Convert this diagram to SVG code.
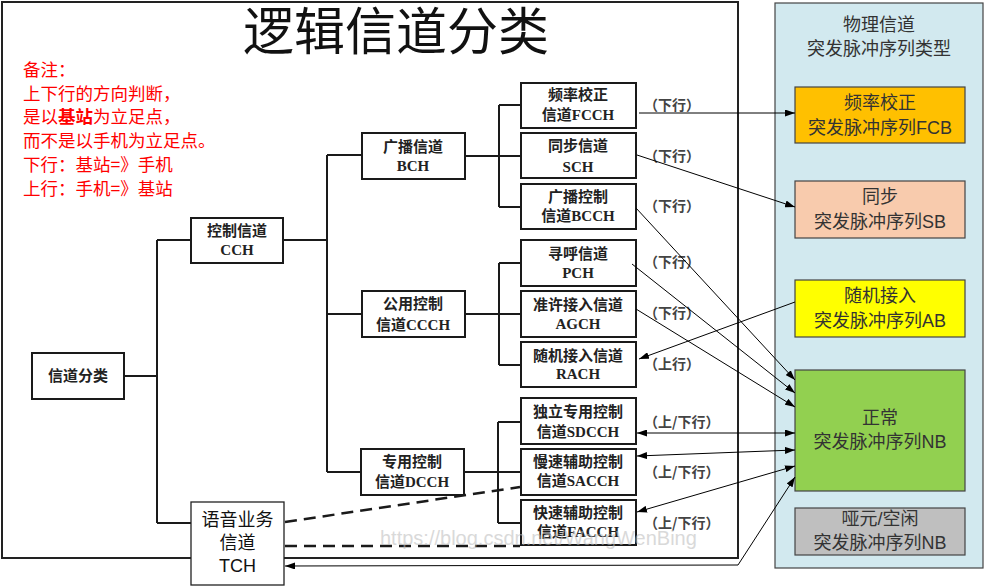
<svg xmlns="http://www.w3.org/2000/svg" width="984" height="586" viewBox="0 0 984 586">
<defs>
<style>
.tb{fill:#fff;stroke:#1a1a1a;stroke-width:2}
.tt{font-family:"Liberation Serif","Noto Sans CJK SC",serif;font-weight:bold;font-size:15px;fill:#222;text-anchor:middle}
.lbl{font-family:"Noto Sans CJK SC",sans-serif;font-weight:bold;font-size:14px;fill:#444}
.tree{stroke:#1a1a1a;stroke-width:2;fill:none}
.conn{stroke:#000;stroke-width:1;fill:none}
.dash{stroke:#1a1a1a;stroke-width:2.5;stroke-dasharray:12 7;fill:none}
.pb{stroke:#444;stroke-width:1.2}
.pt{font-family:"Liberation Sans","Noto Sans CJK SC",sans-serif;font-size:18px;fill:#333;text-anchor:middle}
.note{font-family:"Noto Sans CJK SC",sans-serif;font-size:17.5px;fill:#ff0000}
</style>
<marker id="ah" viewBox="0 0 10 7" refX="10" refY="3.5" markerWidth="10" markerHeight="7" markerUnits="userSpaceOnUse" orient="auto-start-reverse">
<path d="M0,0 L10,3.5 L0,7 z" fill="#000"/>
</marker>
</defs>
<rect width="984" height="586" fill="#fff"/>

<!-- left picture frame -->
<rect x="2" y="2" width="736" height="556" fill="none" stroke="#222" stroke-width="2"/>
<text x="396" y="50" font-family="Noto Sans CJK SC,sans-serif" font-size="51" fill="#111" text-anchor="middle">逻辑信道分类</text>

<!-- notes -->
<g id="notes" class="note">
<text x="23" y="76">备注：</text>
<text x="23" y="99.5">上下行的方向判断，</text>
<text x="23" y="123">是以<tspan font-weight="bold">基站</tspan>为立足点，</text>
<text x="23" y="147">而不是以手机为立足点。</text>
<text x="23" y="171">下行：基站=》手机</text>
<text x="23" y="194.5">上行：手机=》基站</text>
</g>

<!-- right panel -->
<g id="panel">
<rect x="775" y="3" width="208" height="565" fill="#d2e9ef" stroke="#444" stroke-width="1.2"/>
<text class="pt" x="879" y="31">物理信道</text>
<text class="pt" x="879" y="55">突发脉冲序列类型</text>
</g>
<g id="FCB"><rect class="pb" x="795" y="87" width="170" height="56" fill="#ffc000"/><text class="pt" x="880" y="109">频率校正</text><text class="pt" x="880" y="134">突发脉冲序列FCB</text></g>
<g id="SB"><rect class="pb" x="795" y="181" width="170" height="57" fill="#f8cbad"/><text class="pt" x="880" y="203">同步</text><text class="pt" x="880" y="228">突发脉冲序列SB</text></g>
<g id="AB"><rect class="pb" x="795" y="280" width="170" height="57" fill="#ffff00"/><text class="pt" x="880" y="302">随机接入</text><text class="pt" x="880" y="327">突发脉冲序列AB</text></g>
<g id="NB"><rect class="pb" x="795" y="370" width="170" height="121" fill="#92d050"/><text class="pt" x="880" y="424">正常</text><text class="pt" x="880" y="448">突发脉冲序列NB</text></g>
<g id="IDLE"><rect class="pb" x="795" y="508" width="170" height="47" fill="#bfbfbf"/><text class="pt" x="880" y="525">哑元/空闲</text><text class="pt" x="880" y="549">突发脉冲序列NB</text></g>

<!-- tree lines -->
<g id="tree-lines" class="tree">
<path d="M124,376 H157 M157,240 V523 M157,240 H191 M157,523 H191"/>
<path d="M283,240 H327 M327,155 V472 M327,155 H362 M327,314 H362 M327,472 H361"/>
<path d="M465,156 H521 M499,105 V207 M499,105 H521 M499,207 H521"/>
<path d="M465,314 H521 M499,263 V365 M499,263 H521 M499,365 H521"/>
<path d="M463,472 H521 M498,422 V523 M498,422 H521 M498,523 H521"/>
</g>

<!-- tree nodes -->
<g id="ROOT"><rect class="tb" x="32" y="353" width="92" height="46"/><text class="tt" x="78" y="381">信道分类</text></g>
<g id="CCH"><rect class="tb" x="191" y="218" width="92" height="45"/><text class="tt" x="237" y="236">控制信道</text><text class="tt" x="237" y="255">CCH</text></g>
<g id="BCH"><rect class="tb" x="362" y="133" width="103" height="46"/><text class="tt" x="413" y="152">广播信道</text><text class="tt" x="413" y="171">BCH</text></g>
<g id="CCCH"><rect class="tb" x="362" y="291" width="103" height="46"/><text class="tt" x="413" y="309">公用控制</text><text class="tt" x="413" y="330">信道CCCH</text></g>
<g id="DCCH"><rect class="tb" x="361" y="449" width="103" height="46"/><text class="tt" x="412" y="467">专用控制</text><text class="tt" x="412" y="487">信道DCCH</text></g>

<g id="FCCH"><rect class="tb" x="521" y="83" width="115" height="45"/><text class="tt" x="578" y="100">频率校正</text><text class="tt" x="578" y="120">信道FCCH</text></g>
<g id="SCH"><rect class="tb" x="521" y="133" width="115" height="45"/><text class="tt" x="578" y="151">同步信道</text><text class="tt" x="578" y="172">SCH</text></g>
<g id="BCCH"><rect class="tb" x="521" y="184" width="115" height="45"/><text class="tt" x="578" y="202">广播控制</text><text class="tt" x="578" y="221">信道BCCH</text></g>
<g id="PCH"><rect class="tb" x="521" y="240" width="115" height="46"/><text class="tt" x="578" y="259">寻呼信道</text><text class="tt" x="578" y="278">PCH</text></g>
<g id="AGCH"><rect class="tb" x="521" y="291" width="115" height="46"/><text class="tt" x="578" y="310">准许接入信道</text><text class="tt" x="578" y="329">AGCH</text></g>
<g id="RACH"><rect class="tb" x="521" y="342" width="115" height="45"/><text class="tt" x="578" y="361">随机接入信道</text><text class="tt" x="578" y="379">RACH</text></g>
<g id="SDCCH"><rect class="tb" x="521" y="398" width="115" height="46"/><text class="tt" x="578" y="417">独立专用控制</text><text class="tt" x="578" y="437">信道SDCCH</text></g>
<g id="SACCH"><rect class="tb" x="521" y="449" width="115" height="46"/><text class="tt" x="578" y="467">慢速辅助控制</text><text class="tt" x="578" y="486">信道SACCH</text></g>
<g id="FACCH"><rect class="tb" x="521" y="500" width="115" height="45"/><text class="tt" x="578" y="518">快速辅助控制</text><text class="tt" x="578" y="537">信道FACCH</text></g>

<!-- direction labels -->
<g id="labels" class="lbl">
<text x="644" y="110">（下行）</text>
<text x="644" y="161">（下行）</text>
<text x="644" y="211">（下行）</text>
<text x="644" y="267">（下行）</text>
<text x="644" y="318">（下行）</text>
<text x="644" y="369">（上行）</text>
<text x="644" y="427">（上/下行）</text>
<text x="644" y="477">（上/下行）</text>
<text x="644" y="528">（上/下行）</text>
</g>

<!-- connectors -->
<g id="connectors">
<path class="dash" d="M285,522 L520,487"/>
<path class="dash" d="M285,546 L520,546"/>
<path class="conn" d="M639,113 L795,113" marker-end="url(#ah)"/>
<path class="conn" d="M637,155 L795,207" marker-end="url(#ah)"/>
<path class="conn" d="M636,208 L795,380" marker-end="url(#ah)"/>
<path class="conn" d="M632,264 L795,393" marker-end="url(#ah)"/>
<path class="conn" d="M636,309 L795,407" marker-end="url(#ah)"/>
<path class="conn" d="M795,302 L639,359" marker-end="url(#ah)"/>
<path class="conn" d="M637,433 L795,433" marker-start="url(#ah)" marker-end="url(#ah)"/>
<path class="conn" d="M637,456 L795,450" marker-start="url(#ah)" marker-end="url(#ah)"/>
<path class="conn" d="M637,512 L795,466" marker-start="url(#ah)" marker-end="url(#ah)"/>
<path class="conn" d="M795,477 L738,565 L285,566" marker-start="url(#ah)" marker-end="url(#ah)"/>
</g>

<!-- TCH -->
<g id="TCH"><rect x="191" y="502" width="93" height="83" fill="#fff" stroke="#222" stroke-width="1.3"/>
<text x="237.5" y="526" font-family="Liberation Sans,Noto Sans CJK SC,sans-serif" font-size="18" fill="#111" text-anchor="middle">语音业务</text>
<text x="237.5" y="549" font-family="Liberation Sans,Noto Sans CJK SC,sans-serif" font-size="18" fill="#111" text-anchor="middle">信道</text>
<text x="237.5" y="572" font-family="Liberation Sans,Noto Sans CJK SC,sans-serif" font-size="18" fill="#111" text-anchor="middle">TCH</text>
</g>

<text x="380" y="545" font-family="Liberation Sans,sans-serif" font-size="20" fill="#bbb" opacity="0.55">https://blog.csdn.net/WangWenBing</text>
</svg>
